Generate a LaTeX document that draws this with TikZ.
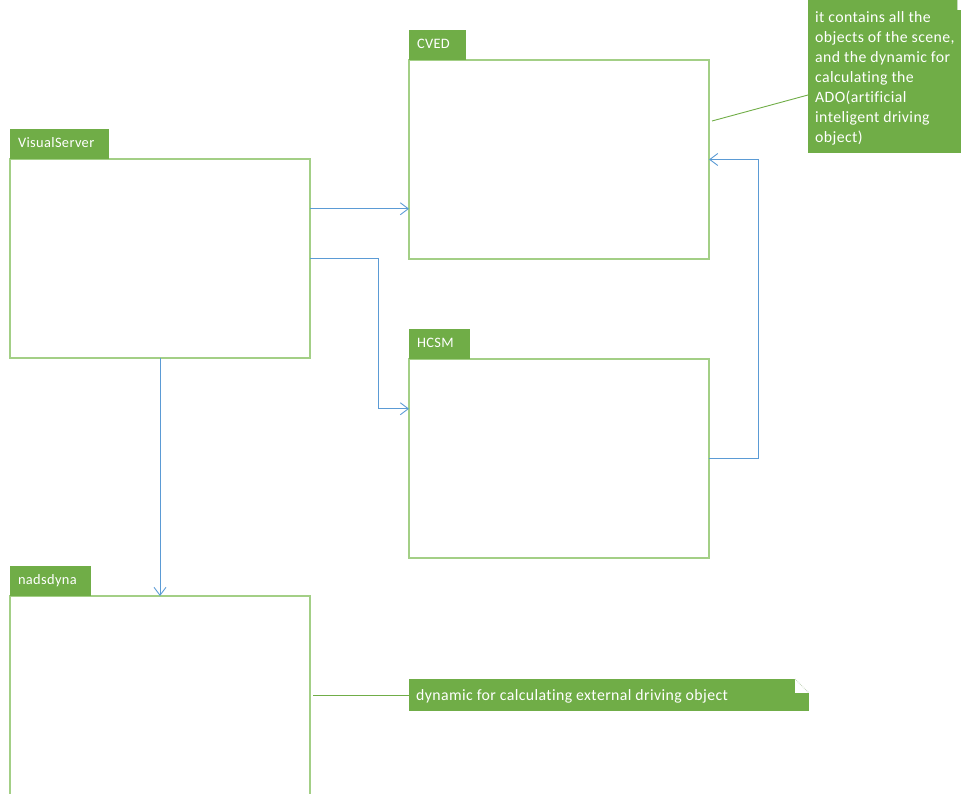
\documentclass[tikz,border=0pt]{standalone}
\usepackage{fontspec}
\setmainfont{Carlito}[LetterSpace=2.5,Ligatures=NoCommon]
\usetikzlibrary{arrows.meta,calc}
\definecolor{tabgreen}{HTML}{70AD47}
\definecolor{boxline}{HTML}{A3CF86}
\definecolor{linkblue}{HTML}{5B9BD5}
\definecolor{foldline}{HTML}{C8D8C0}

\begin{document}
\begin{tikzpicture}[x=1pt,y=-1pt,
  classbox/.style={draw=boxline, line width=1.2pt, minimum width=300pt,
    minimum height=199pt, anchor=north west, inner sep=0pt, outer sep=0pt},
  tabbox/.style={fill=tabgreen, text=white, anchor=south west, minimum height=30pt,
    inner xsep=8pt, inner ysep=0pt, outer sep=0pt, text width=#1, align=left,
    font=\fontsize{14.4}{16}\selectfont, text height=9.8pt, text depth=2.7pt},
  link/.style={draw=linkblue, line width=0.9pt,
    -{Straight Barb[length=8pt,width=12pt,line width=0.9pt]}},
  notelink/.style={draw=tabgreen, line width=0.9pt},
  notebox/.style={fill=tabgreen, anchor=north west, inner sep=0pt, outer sep=0pt},
  notetext/.style={text=white, font=\fontsize{15.8}{20}\selectfont, align=left, inner sep=0pt}
]
\useasboundingbox (0,0) rectangle (961,794);
\clip (0,0) rectangle (961,794);

% class boxes with their name tabs
\node[classbox] (vs) at (10,159) {};
\node[tabbox=83pt] (vstab) at (vs.north west) {VisualServer};
\node[classbox] (cved) at (409,60) {};
\node[tabbox=41pt] (cvedtab) at (cved.north west) {CVED};
\node[classbox] (hcsm) at (409,359) {};
\node[tabbox=45pt] (hcsmtab) at (hcsm.north west) {HCSM};
\node[classbox] (nd) at (10,596) {};
\node[tabbox=65pt] (ndtab) at (nd.north west) {nadsdyna};

% dependencies
\coordinate (vsA) at ($(vs.north east)!0.25!(vs.south east)$);
\draw[link] (vsA) -- (vsA -| cved.west);
\coordinate (hin) at ($(hcsm.north west)!0.25!(hcsm.south west)$);
\draw[link] (vs.east) -- ++(68,0) |- (hin);
\draw[link] (vs.south) -- (nd.north);
\draw[link] (hcsm.east) -- ++(49,0) |- (cved.east);

% comment on CVED
\node[notebox, minimum width=160pt, minimum height=153pt] (adonote) at (808,0) {};
\fill[white] (957,0) rectangle (962,10);
\draw[foldline, line width=0.8pt] (957,0) -- (957,10);
\node[notetext, anchor=north west] (adotext) at (815,11)
  {it contains all the\\objects of the scene,\\and the dynamic for\\calculating the\\ADO(artificial\\inteligent driving\\object)};
\coordinate (cvedtip) at (712,121);
\draw[notelink] (cvedtip) -- ($(adonote.north west)+(0,95)$);

% comment on nadsdyna
\node[notebox, minimum width=400pt, minimum height=32pt] (ednote) at (409,679) {};
\fill[white] (795,678.5) rectangle (810,693);
\draw[foldline, line width=0.8pt, densely dotted] (795,679) -- (809,693);
\node[notetext, anchor=base west] (edtext) at (416,700.5)
  {dynamic for calculating external driving object};
\coordinate (ndtip) at (313,695);
\draw[notelink] (ndtip) -- (ednote.west);
\end{tikzpicture}
\end{document}
